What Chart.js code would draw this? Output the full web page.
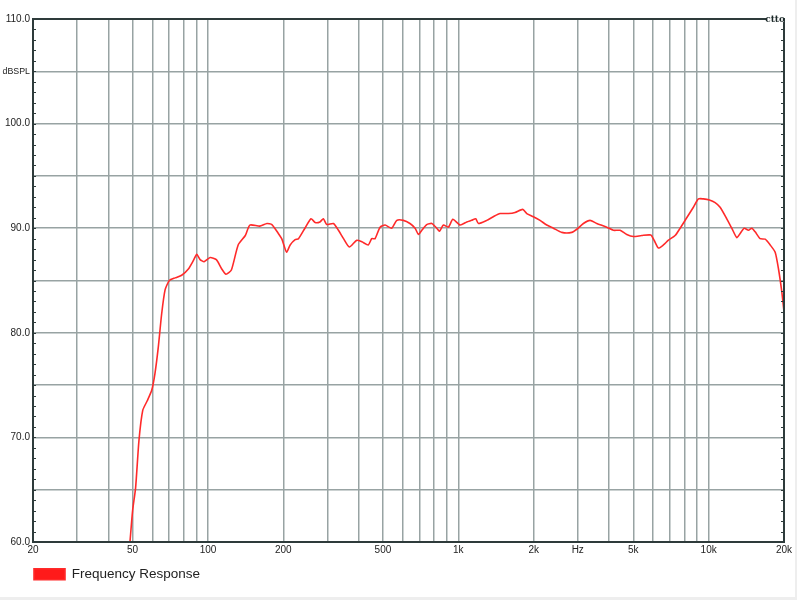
<!DOCTYPE html>
<html>
<head>
<meta charset="utf-8">
<script src="https://cdn.jsdelivr.net/npm/chart.js@4.4.0/dist/chart.umd.min.js"></script>
<style>
  html, body { margin: 0; padding: 0; background: #eeeeee; }
  #wrap { position: absolute; left: 0; top: 0; width: 795px; height: 597px; background: #ffffff; }
</style>
</head>
<body>
<div id="wrap"><canvas id="fr"></canvas></div>
<script>
// frequence (Hz) et niveau (dB SPL)
const freqHz = [48.8, 50, 51.4, 53, 54.9, 57.2, 59.6, 61.4, 63.3, 65.3, 67.4, 70.1, 73.9, 78.5, 83.5, 87.4, 90.2, 93, 96.5,
  102, 108, 113.5, 118, 124, 132, 141, 147, 161, 172, 180, 191, 197, 201, 206, 213, 223, 230, 244, 258, 268, 280, 289, 298,
  317, 332, 348, 367, 393, 412, 437, 451, 465, 487, 510, 542, 568, 603, 641, 672, 693, 715, 748, 784, 820, 841, 872, 913, 951,
  1017, 1081, 1131, 1174, 1203, 1299, 1380, 1469, 1585, 1685, 1809, 1877, 1995, 2121, 2256, 2398, 2591, 2840, 2974, 3160, 3360,
  3573, 3918, 4165, 4428, 4709, 5004, 5405, 5875, 6055, 6302, 6596, 6908, 7345, 7692, 8128, 8690, 9103, 9531, 10070, 10616,
  11112, 11815, 12374, 12956, 13360, 13862, 14424, 14879, 15343, 16062, 16819, 17611, 18440, 19013, 19603, 20000];
const splDb = [60.0, 63.0, 65.2, 69.7, 72.6, 73.5, 74.5, 76.1, 78.6, 81.8, 84.1, 85.0, 85.25, 85.5, 86.1, 86.9, 87.5, 87.0, 86.8,
  87.2, 87.0, 86.1, 85.6, 86.0, 88.4, 89.3, 90.3, 90.2, 90.45, 90.35, 89.5, 89.0, 88.4, 87.7, 88.4, 88.9, 89.0, 90.0, 90.9, 90.55, 90.6, 90.9, 90.35,
  90.45, 89.8, 89.0, 88.2, 88.85, 88.7, 88.4, 89.0, 89.0, 90.1, 90.3, 90.0, 90.75, 90.75, 90.45, 90.0, 89.4, 89.8, 90.35, 90.45, 90.0, 89.7, 90.3, 90.1, 90.85,
  90.3, 90.6, 90.75, 90.9, 90.45, 90.75, 91.1, 91.4, 91.4, 91.5, 91.8, 91.4, 91.1, 90.75, 90.3, 90.0, 89.6, 89.6, 89.9, 90.45, 90.75,
  90.45, 90.1, 89.8, 89.8, 89.4, 89.2, 89.3, 89.35, 88.85, 88.1, 88.4, 88.85, 89.3, 90.0, 90.9, 92.0, 92.8, 92.8, 92.7, 92.45,
  92.0, 90.9, 90.0, 89.1, 89.5, 90.0, 89.8, 90.0, 89.65, 89.0, 88.95, 88.4, 87.7, 86.1, 83.9, 82.0];

// graduations
const xGridValues = [20, 30, 40, 50, 60, 70, 80, 90, 100, 200, 300, 400, 500, 600, 700, 800, 900,
  1000, 2000, 3000, 4000, 5000, 6000, 7000, 8000, 9000, 10000, 20000];
const xLabelValues = [20, 50, 100, 200, 500, 1000, 2000, 3000, 5000, 10000, 20000];
const xLabelTexts = ['20', '50', '100', '200', '500', '1k', '2k', 'Hz', '5k', '10k', '20k'];
const yTickValues = [60, 65, 70, 75, 80, 85, 90, 95, 100, 105, 110];
const yTickLabels = ['60.0', '', '70.0', '', '80.0', '', '90.0', '', '100.0', 'dBSPL', '110.0'];

const police = '"Liberation Sans", Arial, sans-serif';
const gris = '#98a3a3';
const sombre = '#2e3b3b';

// cadre, petites graduations et marque en haut a droite
const cadre = {
  id: 'cadre',
  afterDatasetsDraw(chart) {
    const { ctx, chartArea: a, scales } = chart;
    ctx.save();
    ctx.strokeStyle = sombre;
    ctx.lineWidth = 1;
    for (let v = 60; v <= 110; v++) {
      const y = Math.round(scales.y.getPixelForValue(v)) + 0.5;
      ctx.beginPath();
      ctx.moveTo(a.left, y); ctx.lineTo(a.left + 3, y);
      ctx.moveTo(a.right - 3, y); ctx.lineTo(a.right, y);
      ctx.stroke();
    }
    ctx.lineWidth = 2;
    ctx.strokeRect(a.left, a.top, a.right - a.left, a.bottom - a.top);
    ctx.fillStyle = '#fff';
    ctx.fillRect(a.right - 17, a.top - 3, 17, 6);
    ctx.fillStyle = '#1d2a2a';
    ctx.font = 'bold 9px "DejaVu Serif", serif';
    ctx.textAlign = 'right';
    ctx.textBaseline = 'middle';
    ctx.fillText('ctto', a.right + 1, a.top + 1);
    ctx.restore();
  }
};

new Chart(document.getElementById('fr'), {
  type: 'line',
  data: {
    datasets: [{
      label: 'Frequency Response',
      data: freqHz.map((f, i) => ({ x: f, y: splDb[i] })),
      borderColor: '#ff2a2a',
      backgroundColor: '#ff1a1a',
      borderWidth: 1.6,
      pointRadius: 0,
      tension: 0.2
    }]
  },
  options: {
    responsive: true,
    maintainAspectRatio: false,
    animation: false,
    layout: { padding: { top: 19, right: 11, left: 0, bottom: 6 } },
    plugins: {
      tooltip: { enabled: false },
      legend: {
        position: 'bottom',
        align: 'start',
        fullSize: false,
        labels: { boxWidth: 31, boxHeight: 11, padding: 1, color: '#222', font: { size: 13.5, family: police } }
      }
    },
    scales: {
      x: {
        type: 'logarithmic',
        min: 20,
        max: 20000,
        afterBuildTicks: s => { s.ticks = xGridValues.map(v => ({ value: v })); },
        afterFit: s => { s.height = 24.5; },
        ticks: {
          autoSkip: false,
          maxRotation: 0,
          padding: 2,
          color: '#222',
          font: { size: 10, family: police },
          callback: v => {
            const i = xLabelValues.indexOf(v);
            return i < 0 ? '' : xLabelTexts[i];
          }
        },
        grid: { color: gris, lineWidth: 1.5, drawTicks: false },
        border: { color: sombre, width: 2 }
      },
      y: {
        min: 60,
        max: 110,
        afterBuildTicks: s => { s.ticks = yTickValues.map(v => ({ value: v })); },
        afterFit: s => { s.width = 33; },
        ticks: {
          padding: 3,
          color: '#222',
          font: c => ({ size: c.tick && c.tick.value === 105 ? 8.8 : 10, family: police }),
          callback: v => {
            const i = yTickValues.indexOf(v);
            return i < 0 ? '' : yTickLabels[i];
          }
        },
        grid: { color: gris, lineWidth: 1.5, drawTicks: false },
        border: { color: sombre, width: 2 }
      }
    }
  },
  plugins: [cadre]
});
</script>
</body>
</html>
